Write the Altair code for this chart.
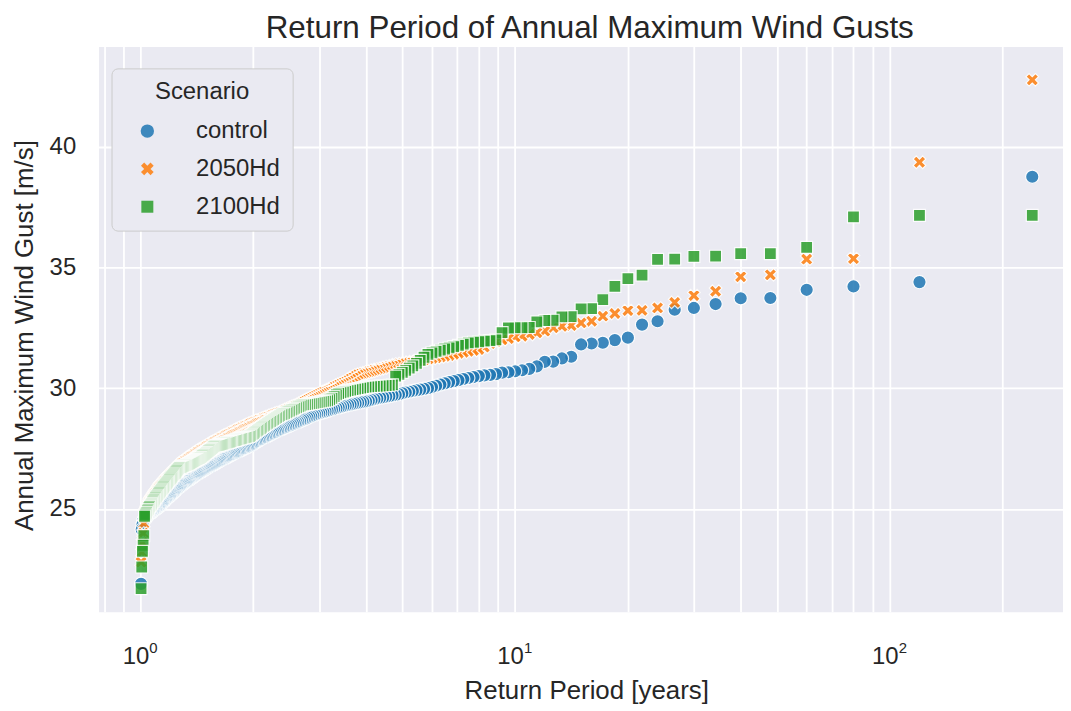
import altair as alt
import pandas as pd

# ---------------- data (sorted annual maxima, rank 1 = largest) ----------------
scenarios = ["control", "2050Hd", "2100Hd"]
colors = ["#1f77b4", "#ff7f0e", "#2ca02c"]
x_path = "M0.5,-1L1,-0.5L0.5,0L1,0.5L0.5,1L0,0.5L-0.5,1L-1,0.5L-0.5,0L-1,-0.5L-0.5,-1L0,-0.5Z"
shapes = ["circle", x_path, "square"]
sizes = [180, 145, 85]

n_plot = 240  # plotting-position numerator: return period = n_plot / rank

control = [
    38.75, 34.39, 34.21, 34.07, 33.73, 33.72, 33.48, 33.32, 33.25, 32.77,
    32.63, 32.09, 31.99, 31.88, 31.85, 31.81, 31.30, 31.23, 31.10, 31.09,
    30.90, 30.80, 30.74, 30.70, 30.66, 30.64, 30.58, 30.55, 30.53, 30.50,
    30.46, 30.42, 30.38, 30.33, 30.29, 30.25, 30.20, 30.15, 30.10, 30.05, 30.00,
    29.97, 29.94, 29.91, 29.88, 29.85, 29.82, 29.79, 29.75,
    29.72, 29.70, 29.67, 29.65, 29.62, 29.60, 29.57, 29.54, 29.51, 29.48, 29.45,
    29.43, 29.41, 29.39, 29.37, 29.35, 29.32, 29.30,
    29.27, 29.25, 29.22, 29.20, 29.17, 29.14, 29.11, 29.09, 29.06, 29.03, 29.00, 28.98, 28.95, 28.93, 28.90,
    28.87, 28.83, 28.80, 28.77, 28.73, 28.70, 28.67, 28.63, 28.60,
    28.57, 28.54, 28.51, 28.48, 28.45, 28.42, 28.39, 28.36, 28.33, 28.30,
    28.27, 28.24, 28.21, 28.18, 28.15, 28.12, 28.08, 28.05, 28.02, 27.99, 27.96,
    27.93, 27.90, 27.87, 27.84, 27.80, 27.77, 27.74, 27.70, 27.67, 27.63, 27.60,
    27.57, 27.55, 27.52, 27.50, 27.47, 27.45, 27.42, 27.40, 27.37, 27.35,
    27.32, 27.30, 27.27, 27.25, 27.22, 27.20, 27.17, 27.15, 27.12, 27.10,
    27.07, 27.05, 27.02, 27.00, 26.97, 26.95, 26.92, 26.90, 26.87, 26.85, 26.82, 26.80,
    26.77, 26.75, 26.72, 26.70, 26.67, 26.65, 26.62, 26.60, 26.57, 26.55, 26.52, 26.50,
    26.47, 26.45, 26.42, 26.40, 26.37, 26.34, 26.32, 26.29, 26.26, 26.24,
    26.21, 26.18, 26.16, 26.13, 26.10, 26.08, 26.05, 26.03, 26.00,
    25.97, 25.94, 25.90, 25.87, 25.84, 25.81, 25.78, 25.75, 25.71, 25.68,
    25.65, 25.62, 25.59, 25.55, 25.52, 25.49, 25.46, 25.43, 25.40,
    25.37, 25.33, 25.30, 25.27, 25.23, 25.20, 25.17, 25.13, 25.10,
    25.08, 25.05, 25.03, 25.01, 24.98, 24.96, 24.93, 24.91, 24.88, 24.86, 24.84, 24.82, 24.80,
    24.77, 24.74, 24.71, 24.67, 24.64, 24.60, 24.57, 24.53, 24.50,
    24.35, 24.15, 21.90,
]

hd2050 = [
    42.76, 39.35, 35.36, 35.34, 34.69, 34.61, 34.01, 33.83, 33.55, 33.32,
    33.22, 33.21, 33.09, 32.98, 32.77, 32.70, 32.59, 32.56, 32.50, 32.36,
    32.29, 32.22, 32.15, 32.12, 32.05, 32.00, 31.93, 31.85, 31.70, 31.60,
    31.56, 31.52, 31.48, 31.44, 31.40, 31.35,
    31.32, 31.29, 31.26, 31.23, 31.20,
    31.17, 31.15, 31.12, 31.10, 31.07, 31.05, 31.02, 31.00,
    30.97, 30.93, 30.90, 30.87, 30.83, 30.80,
    30.77, 30.74, 30.70, 30.67, 30.64, 30.61, 30.58, 30.55,
    30.49, 30.43, 30.37, 30.30,
    30.25, 30.21, 30.16, 30.12, 30.07, 30.03, 29.98, 29.94, 29.90,
    29.86, 29.82, 29.78, 29.74, 29.70, 29.66, 29.62, 29.58, 29.54, 29.50, 29.46, 29.42, 29.38, 29.34, 29.30,
    29.27, 29.24, 29.21, 29.18, 29.15, 29.12, 29.09, 29.06, 29.03, 29.00,
    28.98, 28.96, 28.93, 28.91, 28.89, 28.87, 28.84, 28.82, 28.80, 28.77, 28.75,
    28.73, 28.70, 28.68, 28.66, 28.63, 28.61, 28.59, 28.57, 28.55, 28.52, 28.50,
    28.47, 28.45, 28.42, 28.40, 28.37, 28.35, 28.32, 28.30, 28.27, 28.25,
    28.22, 28.20, 28.17, 28.15, 28.12, 28.10, 28.07, 28.05, 28.02, 28.00,
    27.97, 27.95, 27.92, 27.90, 27.87, 27.85, 27.82, 27.80, 27.77, 27.75, 27.72, 27.70,
    27.67, 27.65, 27.62, 27.60, 27.57, 27.55, 27.52, 27.50, 27.47, 27.45, 27.42, 27.40,
    27.37, 27.35, 27.32, 27.29, 27.26, 27.24, 27.21, 27.18, 27.16, 27.13,
    27.10, 27.08, 27.05, 27.02, 27.00, 26.97, 26.95, 26.92, 26.90,
    26.86, 26.83, 26.79, 26.76, 26.72, 26.69, 26.65, 26.62, 26.58, 26.55,
    26.51, 26.48, 26.44, 26.41, 26.37, 26.33, 26.30, 26.26, 26.23, 26.19,
    26.15, 26.12, 26.08, 26.05, 26.01, 25.98, 25.94, 25.90,
    25.85, 25.81, 25.76, 25.71, 25.67, 25.62, 25.58, 25.53, 25.49, 25.44, 25.40, 25.35, 25.30,
    25.23, 25.16, 25.09, 25.02, 24.95, 24.88, 24.80,
    24.40, 24.00, 23.60, 23.20, 22.80,
]

hd2100 = [
    37.15, 37.15, 37.09, 35.83, 35.57, 35.57, 35.46, 35.45, 35.34, 35.33,
    34.68, 34.53, 34.21, 33.66, 33.29, 33.28, 32.96, 32.95, 32.81, 32.80,
    32.74, 32.51, 32.50, 32.50, 32.49, 32.30, 32.00, 31.97, 31.95, 31.92,
    31.90, 31.87, 31.82, 31.77, 31.72, 31.67,
    31.62, 31.57, 31.52, 31.46, 31.40,
    31.28, 31.15, 31.03, 30.92,
    30.83, 30.74, 30.65, 30.57, 30.50,
    30.14, 30.12, 30.11, 30.10, 30.09, 30.08, 30.07, 30.06, 30.05, 30.04,
    30.02, 30.00, 29.98, 29.96, 29.94, 29.92, 29.90, 29.87, 29.84, 29.81, 29.78,
    29.72, 29.65, 29.58, 29.52, 29.48,
    29.46, 29.45, 29.43, 29.42, 29.40, 29.39, 29.37, 29.36, 29.35, 29.33, 29.32, 29.31, 29.30,
    29.26, 29.23, 29.19, 29.16, 29.12, 29.09, 29.05, 29.02, 28.98, 28.95, 28.92, 28.90,
    28.86, 28.82, 28.78, 28.74, 28.70, 28.66, 28.62, 28.58, 28.54, 28.50,
    28.46, 28.42, 28.38, 28.33, 28.29, 28.25, 28.21, 28.17, 28.12, 28.08, 28.04, 28.00,
    27.99, 27.97, 27.96, 27.94, 27.93, 27.92, 27.90, 27.89, 27.87, 27.86,
    27.84, 27.83, 27.82, 27.80, 27.79, 27.77, 27.76, 27.74, 27.73, 27.72,
    27.70, 27.69, 27.67, 27.66, 27.64, 27.63, 27.62, 27.61, 27.60,
    27.57, 27.53, 27.50, 27.46, 27.43, 27.40, 27.36, 27.33, 27.30, 27.26,
    27.23, 27.20, 27.16, 27.13, 27.10,
    27.08, 27.06, 27.04, 27.02, 27.00, 26.98, 26.96, 26.94, 26.92, 26.90, 26.88,
    26.86, 26.84, 26.82, 26.80, 26.79, 26.77, 26.76, 26.74, 26.73, 26.71, 26.70,
    26.66, 26.62, 26.58, 26.53, 26.49, 26.45, 26.41, 26.37, 26.33, 26.29,
    26.25, 26.21, 26.16, 26.12, 26.08, 26.04, 26.00,
    25.96, 25.92, 25.88, 25.83, 25.79, 25.75, 25.71, 25.67, 25.62, 25.58, 25.54, 25.50,
    25.46, 25.41, 25.37, 25.32, 25.28, 25.23, 25.19, 25.14, 25.10,
    25.04, 24.98, 24.92, 24.86, 24.80, 24.75, 24.70,
    23.90, 23.50, 23.25, 22.60, 21.70,
]

grid_values = [0.8, 0.9, 1, 2, 3, 4, 5, 6, 7, 8, 9, 10, 20, 30, 40, 50, 60, 70, 80, 90, 100, 200]
label_values = [1, 10, 100]
label_exponents = ["0", "1", "2"]
y_ticks = [25, 30, 35, 40]

rows = []
for name, vals in zip(scenarios, [control, hd2050, hd2100]):
    for rank, v in enumerate(vals, start=1):
        rows.append({"Scenario": name, "rp": n_plot / rank, "gust": v})
df = pd.DataFrame(rows)
sup_df = pd.DataFrame({"rp": label_values, "exp": label_exponents})

FONT = "Liberation Sans"
TXT = "#262626"
x_scale = alt.Scale(type="log", domain=[0.7734, 289.9], nice=False, zero=False)
y_scale = alt.Scale(domain=[20.745, 44.14], nice=False, zero=False)

x_axis = alt.Axis(values=grid_values,
                  labelExpr="(datum.value == 1 || datum.value == 10 || datum.value == 100) ? '10' : ''",
                  grid=True, gridColor="white", gridWidth=1.8,
                  ticks=False, tickSize=0, domain=False,
                  labelFontSize=24, labelFont=FONT, labelColor=TXT,
                  labelPadding=52, labelBaseline="alphabetic", labelOffset=-5,
                  labelOverlap=False, labelFlush=False,
                  titleFontSize=26, titleFont=FONT, titleColor=TXT, titleFontWeight="normal",
                  titleX=490, titleY=87, titleBaseline="alphabetic")

legend = alt.Legend(
    title="Scenario", orient="none", legendX=13, legendY=22,
    fillColor="#EAEAF2", strokeColor="#CCCCCC", cornerRadius=6, padding=12,
    titleFontSize=24, titleFont=FONT, titleFontWeight="normal", titleColor=TXT,
    titleAnchor="middle", titlePadding=15,
    labelFontSize=24, labelFont=FONT, labelColor=TXT,
    rowPadding=14, symbolOffset=12, labelOffset=37,
    symbolStrokeColor="white", symbolStrokeWidth=1, symbolOpacity=0.85,
)

points = alt.Chart(df).mark_point(
    filled=True, stroke="white", strokeWidth=1.2, opacity=0.85
).encode(
    x=alt.X("rp:Q", scale=x_scale, title="Return Period [years]", axis=x_axis),
    y=alt.Y("gust:Q", scale=y_scale, title="Annual Maximum Wind Gust [m/s]",
            axis=alt.Axis(values=y_ticks, grid=True, gridColor="white", gridWidth=1.8,
                          ticks=False, tickSize=0, domain=False,
                          labelFontSize=24, labelFont=FONT, labelColor=TXT, labelPadding=23,
                          labelFlush=False,
                          titleFontSize=26, titleFont=FONT, titleColor=TXT, titleFontWeight="normal",
                          titleX=-66, titleY=290, titleBaseline="alphabetic", titleAngle=270)),
    color=alt.Color("Scenario:N", scale=alt.Scale(domain=scenarios, range=colors), legend=legend),
    shape=alt.Shape("Scenario:N", scale=alt.Scale(domain=scenarios, range=shapes), legend=legend),
    size=alt.Size("Scenario:N", scale=alt.Scale(domain=scenarios, range=sizes), legend=legend),
)

sup = alt.Chart(sup_df).mark_text(
    align="left", baseline="alphabetic", dx=9, fontSize=15, font=FONT, color=TXT
).encode(
    x=alt.X("rp:Q", scale=x_scale, title="Return Period [years]", axis=x_axis),
    y=alt.value(609),
    text="exp:N",
)

chart = alt.layer(points, sup).properties(
    width=969, height=568,
    title=alt.Title("Return Period of Annual Maximum Wind Gusts", fontSize=31.5, font=FONT,
                    color=TXT, fontWeight="normal", anchor="middle", offset=2, frame="group",
                    dx=9),
    padding={"left": 91, "top": 37, "right": 0, "bottom": 98},
    autosize=alt.AutoSizeParams(type="none"),
    background="white",
).configure_view(fill="#EAEAF2", stroke="transparent")

chart.save("out.html", embed_options={"renderer": "svg", "actions": False})
